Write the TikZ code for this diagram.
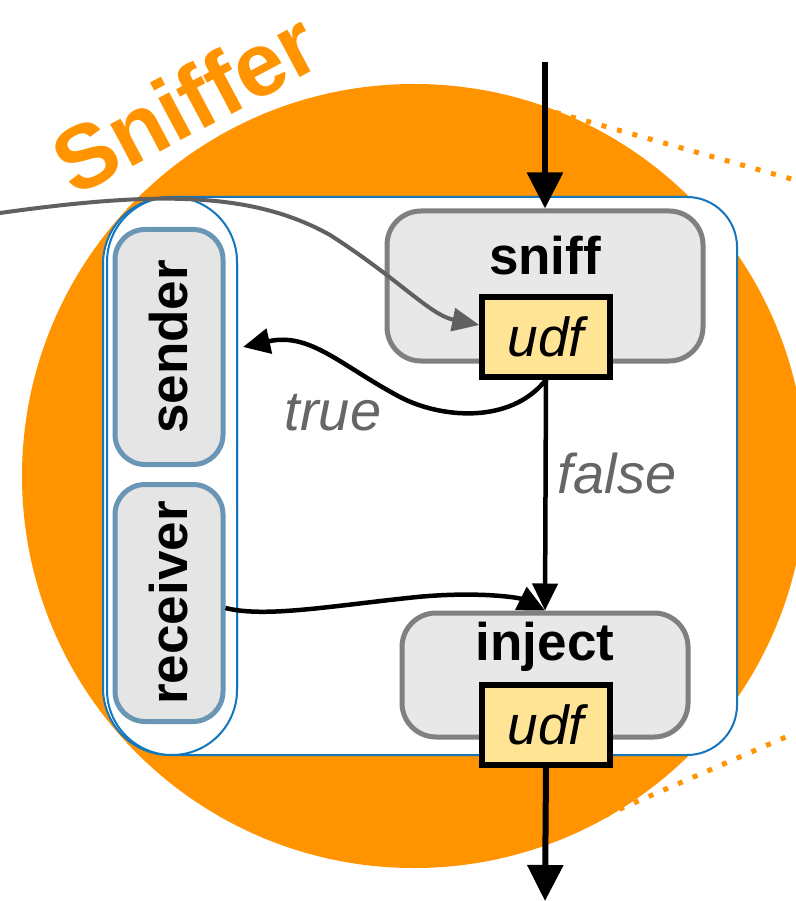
\documentclass[tikz,border=0pt]{standalone}
\usepackage{fontspec}
\setmainfont{Liberation Sans}
\usetikzlibrary{arrows.meta,positioning}
\definecolor{sorange}{RGB}{255,147,0}
\definecolor{sblue}{RGB}{20,118,188}
\definecolor{sslate}{RGB}{106,150,181}
\definecolor{sgray}{RGB}{128,128,128}
\definecolor{sbox}{RGB}{232,232,232}
\definecolor{sudf}{RGB}{255,228,150}
\definecolor{slabel}{RGB}{102,102,102}
\definecolor{scurve}{RGB}{96,96,96}
\tikzset{
  sniffpic/.style={x=1pt,y=-1pt},
  opbox/.style={draw=sgray,fill=sbox,line width=5pt,rounded corners=34pt},
  endbox/.style={draw=sslate,fill=black!10,line width=5pt,rounded corners=30pt,rotate=90,
    inner sep=0pt,minimum height=108pt,font=\fontsize{53}{60}\selectfont\bfseries},
  udfbox/.style={draw=black,fill=sudf,line width=5.5pt,minimum width=128pt,minimum height=80pt,
    font=\fontsize{55}{60}\selectfont\itshape},
  optitle/.style={anchor=base,font=\fontsize{53}{60}\selectfont\bfseries},
  branch/.style={anchor=base,text=slabel,font=\fontsize{56}{60}\selectfont\itshape},
  flow/.style={line width=4.5pt,-{Triangle[length=27pt,width=25pt]}},
  io/.style={line width=6pt,-{Triangle[length=36pt,width=35pt]}},
  zoomline/.style={sorange,line width=5pt,dash pattern=on 5pt off 11pt},
}

\begin{document}
\begin{tikzpicture}[sniffpic]
    \useasboundingbox (0,0) rectangle (795,901);
    \coordinate (zoomtop) at (795,180);
    \coordinate (zoombot) at (795,733);
    \draw[zoomline] (540,108) -- (zoomtop);
    \draw[zoomline] (590,822) -- (zoombot);
    \fill[sorange] (414,476) circle (392);
    \node[anchor=base,rotate=28,text=sorange,inner sep=0pt,
      font=\fontsize{90}{94}\selectfont\bfseries] (title) at (200,131) {Sniffer};
    % operator frame
    \draw[sblue,line width=2pt,fill=white,rounded corners=50pt]
      (172,197) -- (737,197) -- (737,755) -- (172,755);
    \node[draw=sblue,line width=2pt,fill=white,rounded corners=67pt,
      minimum width=134pt,minimum height=558pt] (wrap) at (170,476) {};
    \node[draw=sblue,line width=2pt,fill=white,rounded corners=65pt,
      minimum width=130pt,minimum height=558pt] (group) at (172,476) {};
    \node[endbox,minimum width=235pt] (sender) at (169,347) {sender};
    \node[endbox,minimum width=237pt] (receiver) at (169,603) {receiver};
    \node[opbox,minimum width=316pt,minimum height=150pt] (sniff) at (545,286) {};
    \node[optitle] (snifftitle) at ([yshift=-66pt]sniff.north) {sniff};
    \node[udfbox] (udftop) at (546,337) {udf};
    \node[opbox,minimum width=286pt,minimum height=124pt] (inject) at (545,675) {};
    \node[optitle] (injecttitle) at ([yshift=-50pt]inject.north) {inject};
    \node[udfbox] (udfbot) at (546,725) {udf};
    % flow
    \coordinate (src) at (545,62);
    \coordinate (sink) at (545,901);
    \coordinate (wire) at (0,213);
    \path (group.east |- sender) ++(5,0) coordinate (senderin);
    \draw[io] (src) -- (sniff.north);
    \draw[io] (udfbot.south) -- (sink);
    \draw[flow] (udftop.south) -- (inject.north);
    \draw[flow] (udftop.south) .. controls (510,425) and (440,418) .. (400,397)
      .. controls (340,365) and (310,332) .. (senderin);
    \draw[flow] ([yshift=-5pt]receiver.south) .. controls (265,618) and (330,606) .. (417,597)
      .. controls (480,591) and (520,598) .. (inject.north);
    \node[branch] (truelabel) at (333,430) {true};
    \node[branch] (falselabel) at (617,493) {false};
    \draw[scurve,line width=4pt,-{Triangle[length=27pt,width=23pt]}]
      (wire) .. controls (150,192) and (250,190) .. (330,235)
      .. controls (400,280) and (430,315) .. ([yshift=12pt]udftop.west);
\end{tikzpicture}
\end{document}
